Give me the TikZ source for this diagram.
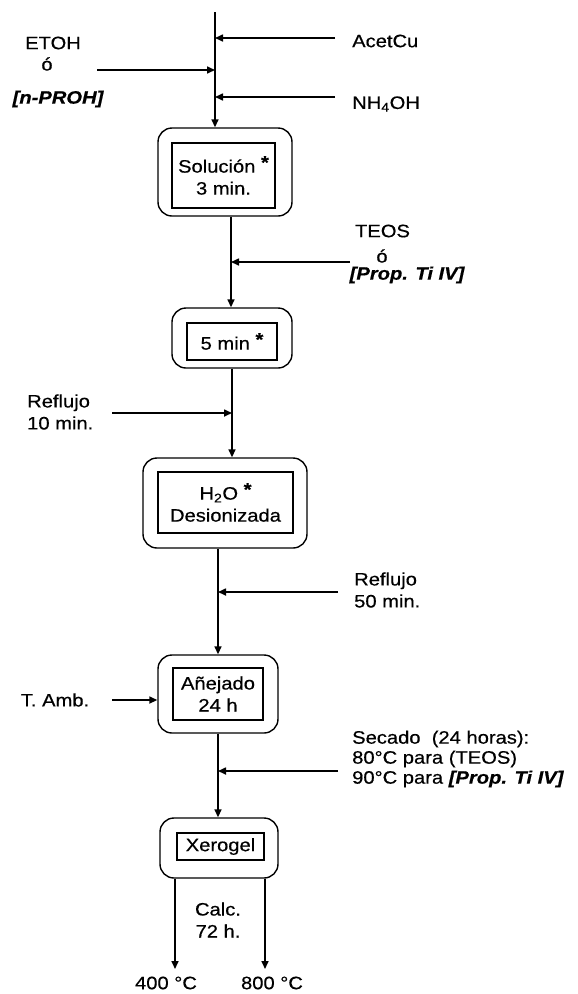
\documentclass[tikz,border=0pt]{standalone}
\usepackage{fontspec}
\setmainfont[FakeStretch=1.12,FakeBold=0.5]{Liberation Sans}
\usetikzlibrary{arrows.meta}
\newcommand{\astmark}{~\raisebox{4pt}{\textbf{*}}}
\begin{document}
\begin{tikzpicture}[x=1pt,y=-1pt,
  every node/.style={font=\fontsize{18}{22}\selectfont, inner sep=0pt},
  arr/.style={line width=1.6pt, -{Triangle[length=8pt,width=7pt]}},
  outerbox/.style={draw, line width=1.4pt, rounded corners=14pt},
  innerbox/.style={draw, line width=1.3pt, align=center},
  lbl/.style={align=center},
  lbll/.style={align=left, anchor=west},
  bi/.style={font=\fontsize{18}{22}\selectfont\bfseries\itshape}]
\useasboundingbox (0,0) rectangle (578,994);
% boxes
\node[outerbox, minimum width=134pt, minimum height=88pt] (o1) at (225,172) {};
\node[innerbox, minimum width=103pt, minimum height=65pt] (b1) at (223.5,175.5) {Solución\astmark\\3 min.};
\node[outerbox, minimum width=120pt, minimum height=60pt] (o2) at (232,338) {};
\node[innerbox, minimum width=90pt, minimum height=37pt] (b2) at (232,341.5) {5 min\astmark};
\node[outerbox, minimum width=164pt, minimum height=90pt] (o3) at (225,503) {};
\node[innerbox, minimum width=135pt, minimum height=61pt] (b3) at (225.5,502.5) {H\textsubscript{2}O\astmark\\Desionizada};
\node[outerbox, minimum width=120pt, minimum height=78pt] (o4) at (218,694) {};
\node[innerbox, minimum width=90pt, minimum height=52pt] (b4) at (218,694) {Añejado\\24 h};
\node[outerbox, minimum width=118pt, minimum height=60pt] (o5) at (219,848) {};
\node[innerbox, minimum width=87pt, minimum height=27pt] (b5) at (220.5,846.5) {Xerogel};
% labels
\node[lbl] (etoh) at (53,43) {ETOH};
\node[lbl] (o-a) at (47,64) {ó};
\node[bi] (nproh) at (58,99) {[n-PROH]};
\node[lbll] (acet) at (352,41) {AcetCu};
\node[lbll] (nh4) at (352,104) {NH\textsubscript{4}OH};
\node[lbl] (teos) at (382.5,231) {TEOS};
\node[lbl] (o-b) at (382,256) {ó};
\node[bi] (prop) at (407,275) {[Prop. Ti IV]};
\node[lbll] (ref10) at (27,412) {Reflujo\\10 min.};
\node[lbll] (ref50) at (354,590) {Reflujo\\50 min.};
\node[lbl] (tamb) at (55,700) {T. Amb.};
\node[lbll, font=\fontsize{18}{20}\selectfont] (sec) at (352,759) {Secado~ (24 horas):\\80°C para (TEOS)\\90°C para \textbf{\textit{[Prop. Ti IV]}}};
\node[lbl] (calc) at (218,920) {Calc.\\72 h.};
\node[lbl] (t400) at (166,983) {400 °C};
\node[lbl] (t800) at (272,983) {800 °C};
% coordinates
\coordinate (top) at (215,12);
\coordinate (cAcet) at (335,38);
\coordinate (cEtoh) at (97,70);
\coordinate (cNh4) at (335,97);
\coordinate (cTeos) at (350,262);
\coordinate (cRef10) at (112,413);
\coordinate (cRef50) at (338,592);
\coordinate (cTamb) at (112,700);
\coordinate (cSec) at (338,771);
\coordinate (x400) at (175,969);
\coordinate (x800) at (265,969);
\coordinate (t2) at (231,0);
\coordinate (t3) at (232,0);
\coordinate (t4) at (218,0);
% trunk
\draw[arr] (top) -- (top |- o1.north);
\draw[arr] (t2 |- o1.south) -- (t2 |- o2.north);
\draw[arr] (t3 |- o2.south) -- (t3 |- o3.north);
\draw[arr] (t4 |- o3.south) -- (t4 |- o4.north);
\draw[arr] (t4 |- o4.south) -- (t4 |- o5.north);
\draw[arr] (x400 |- o5.south) -- (x400);
\draw[arr] (x800 |- o5.south) -- (x800);
% side inputs
\draw[arr] (cAcet) -- (cAcet -| top);
\draw[arr] (cEtoh) -- (cEtoh -| top);
\draw[arr] (cNh4) -- (cNh4 -| top);
\draw[arr] (cTeos) -- (cTeos -| t2);
\draw[arr] (cRef10) -- (cRef10 -| t3);
\draw[arr] (cRef50) -- (cRef50 -| t4);
\draw[arr] (cTamb) -- (cTamb -| o4.west);
\draw[arr] (cSec) -- (cSec -| t4);
\end{tikzpicture}
\end{document}
